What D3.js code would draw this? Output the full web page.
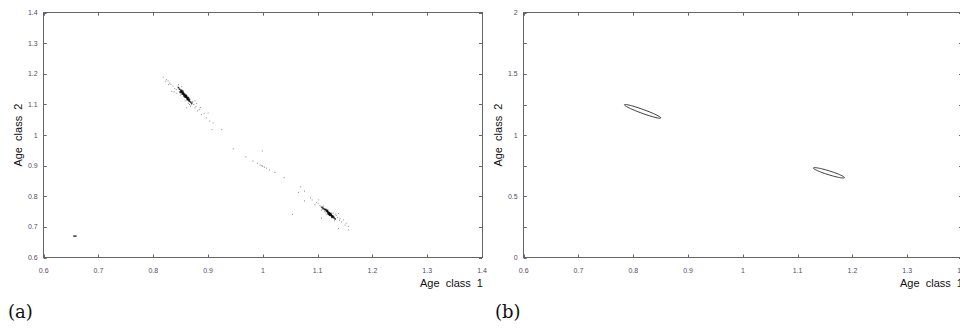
<!DOCTYPE html>
<html><head><meta charset="utf-8">
<script src="https://cdn.jsdelivr.net/npm/d3@7"></script>
<style>
html,body{margin:0;padding:0;background:#fff;}
svg{display:block;}
</style></head>
<body>
<svg id="chart" width="960" height="330"></svg>
<script>
// ---------- DATA ----------
const xTicksA = [0.6,0.7,0.8,0.9,1,1.1,1.2,1.3,1.4];
const yTicksA = [0.6,0.7,0.8,0.9,1,1.1,1.2,1.3,1.4];
const xTicksB = [0.6,0.7,0.8,0.9,1,1.1,1.2,1.3,1.4];
const yTicksB = [0,0.5,1,1.5,2];
const yMinorB = [0.25,0.75,1.25,1.75];

// panel (a): scattered simulation points, [age class 1, age class 2]
const cluster1Outer = [
 [0.818,1.189],[0.824,1.181],[0.827,1.177],[0.830,1.170],[0.834,1.143],[0.836,1.160],
 [0.845,1.160],[0.849,1.138],[0.861,1.089],[0.870,1.099],[0.876,1.089],[0.881,1.079],
 [0.888,1.067],[0.897,1.056],[0.900,1.072],[0.903,1.046],[0.907,1.018],[0.925,1.018],
 [0.909,1.040],[0.832,1.166],[0.839,1.152],[0.842,1.149],[0.838,1.141],[0.871,1.106],
 [0.874,1.100],[0.868,1.094],[0.878,1.094],[0.884,1.083],[0.866,1.100],[0.843,1.137],
 [0.822,1.176],[0.828,1.165],[0.846,1.165],[0.852,1.158],[0.872,1.110],[0.879,1.103],
 [0.886,1.090],[0.864,1.104],[0.858,1.112],[0.893,1.070],[0.850,1.131],[0.876,1.112]
];
const cluster1Core = [
 [0.846,1.155],[0.848,1.150],[0.850,1.146],[0.851,1.143],[0.853,1.140],[0.854,1.137],
 [0.855,1.134],[0.856,1.132],[0.857,1.130],[0.858,1.128],[0.859,1.126],[0.860,1.124],
 [0.861,1.122],[0.862,1.120],[0.863,1.118],[0.864,1.116],[0.865,1.113],[0.866,1.111],
 [0.868,1.108],[0.870,1.104],[0.852,1.146],[0.855,1.138],[0.857,1.134],[0.859,1.131],
 [0.861,1.127],[0.863,1.123],[0.860,1.129],[0.856,1.128],[0.858,1.124],[0.862,1.116],
 [0.864,1.121],[0.854,1.143],[0.866,1.117],[0.849,1.141],[0.853,1.134],[0.851,1.139]
];
const middlePoints = [
 [0.946,0.955],[0.969,0.929],[0.999,0.948],[0.982,0.915],[0.990,0.908],[0.995,0.902],
 [0.998,0.900],[1.000,0.898],[1.003,0.895],[1.007,0.892],[1.012,0.886],[1.022,0.878],
 [1.039,0.861],[1.069,0.831],[1.076,0.817],[1.065,0.813],[1.076,0.785],[1.054,0.741]
];
const cluster2Outer = [
 [1.087,0.795],[1.090,0.788],[1.102,0.788],[1.101,0.777],[1.095,0.772],[1.107,0.755],
 [1.138,0.744],[1.141,0.728],[1.147,0.723],[1.150,0.706],[1.156,0.701],[1.138,0.695],
 [1.156,0.690],[1.107,0.728],[1.113,0.750],[1.098,0.780],[1.104,0.770],[1.134,0.737],
 [1.144,0.716],[1.131,0.720],[1.111,0.768],[1.115,0.745],[1.136,0.731],[1.152,0.712],
 [1.106,0.766],[1.128,0.745],[1.133,0.742],[1.140,0.722],[1.117,0.740],[1.109,0.758]
];
const cluster2Core = [
 [1.108,0.764],[1.110,0.761],[1.112,0.758],[1.114,0.756],[1.116,0.753],[1.118,0.750],
 [1.119,0.748],[1.120,0.746],[1.121,0.744],[1.122,0.742],[1.123,0.740],[1.124,0.738],
 [1.125,0.737],[1.126,0.735],[1.128,0.732],[1.130,0.729],[1.132,0.726],[1.115,0.757],
 [1.117,0.751],[1.119,0.745],[1.121,0.747],[1.123,0.743],[1.125,0.740],[1.127,0.736],
 [1.120,0.741],[1.118,0.754],[1.122,0.738],[1.126,0.731],[1.124,0.744],[1.129,0.734]
];
const isolatedPoints = [[0.654,0.670],[0.656,0.670],[0.658,0.670],[0.660,0.670]];

// panel (b): confidence ellipses: centre, major half-axis vector, minor half-axis vector (data units)
const ellipseCentres = [[0.817,1.194],[1.157,0.692]];
const ellipseMajor   = [[0.0332,-0.054],[0.0283,-0.0396]];
const ellipseMinor   = [[-0.0013,-0.0150],[-0.0011,-0.0150]];

// ---------- DRAW ----------
const svg = d3.select('#chart');
const tickColor = '#5a4a66';

function panel(opts){
  const {x0,x1,y0,y1,xDom,yDom,xTicks,yTicks,yMinor,yLabelX,xLabelRight,yFmt} = opts;
  const x = d3.scaleLinear().domain(xDom).range([x0,x1]);
  const y = d3.scaleLinear().domain(yDom).range([y0,y1]);
  const g = svg.append('g');
  g.append('rect').attr('x',x0).attr('y',y1).attr('width',x1-x0).attr('height',y0-y1)
    .attr('fill','none').attr('stroke','#666').attr('stroke-width',1).attr('shape-rendering','crispEdges');
  const tl = 3;
  const allY = yTicks.concat(yMinor||[]);
  g.selectAll('.xtb').data(xTicks).join('line')
    .attr('x1',d=>Math.round(x(d))+0.5).attr('x2',d=>Math.round(x(d))+0.5)
    .attr('y1',y0).attr('y2',y0-tl).attr('stroke','#666');
  g.selectAll('.xtt').data(xTicks).join('line')
    .attr('x1',d=>Math.round(x(d))+0.5).attr('x2',d=>Math.round(x(d))+0.5)
    .attr('y1',y1).attr('y2',y1+tl).attr('stroke','#666');
  g.selectAll('.ytl').data(allY).join('line')
    .attr('y1',d=>Math.round(y(d))+0.5).attr('y2',d=>Math.round(y(d))+0.5)
    .attr('x1',x0).attr('x2',x0+tl).attr('stroke','#666');
  g.selectAll('.ytr').data(allY).join('line')
    .attr('y1',d=>Math.round(y(d))+0.5).attr('y2',d=>Math.round(y(d))+0.5)
    .attr('x1',x1).attr('x2',x1-tl).attr('stroke','#666');
  g.selectAll('.xl').data(xTicks).join('text')
    .attr('x',d=>x(d)).attr('y',y0+15).attr('text-anchor','middle')
    .attr('font-family','Liberation Sans, Arial, sans-serif').attr('font-size',7)
    .attr('fill',tickColor).text(d=>d3.format('')(d));
  g.selectAll('.yl').data(yTicks).join('text')
    .attr('x',x0-6).attr('y',d=>y(d)+2.5).attr('text-anchor','end')
    .attr('font-family','Liberation Sans, Arial, sans-serif').attr('font-size',7)
    .attr('fill',tickColor).text(d=>yFmt(d));
  g.append('text').attr('x',xLabelRight).attr('y',y0+29).attr('text-anchor','end')
    .attr('font-family','Liberation Sans, Arial, sans-serif').attr('font-size',11)
    .attr('fill','#111').style('white-space','pre')
    .text('Age  class  1');
  g.append('text').attr('transform',`translate(${yLabelX},${(y0+y1)/2}) rotate(-90)`)
    .attr('text-anchor','middle')
    .attr('font-family','Liberation Sans, Arial, sans-serif').attr('font-size',11)
    .attr('fill','#111').style('white-space','pre')
    .text('Age  class  2');
  return {x,y,g};
}

// Panel (a)
const A = panel({x0:43.7,x1:482,y0:257.5,y1:12.7,xDom:[0.6,1.4],yDom:[0.6,1.4],
  xTicks:xTicksA,yTicks:yTicksA,yMinor:[],yLabelX:21.5,xLabelRight:483,yFmt:d3.format('')});

function dots(data, r, fill, op){
  A.g.append('g').selectAll('rect').data(data).join('rect')
    .attr('x',d=>A.x(d[0])-r/2).attr('y',d=>A.y(d[1])-r/2)
    .attr('width',r).attr('height',r).attr('fill',fill).attr('opacity',op);
}
dots(cluster1Outer,1,'#333',0.55);
dots(cluster2Outer,1,'#333',0.55);
dots(middlePoints,1,'#333',0.6);
dots(cluster1Core,1.6,'#000',0.8);
dots(cluster2Core,1.6,'#000',0.8);
A.g.append('path').datum(isolatedPoints)
  .attr('d',d3.line().x(d=>A.x(d[0])).y(d=>A.y(d[1])))
  .attr('stroke','#000').attr('stroke-width',1.2).attr('fill','none');

// Panel (b)
const B = panel({x0:523.7,x1:962,y0:257.5,y1:12.7,xDom:[0.6,1.4],yDom:[0,2],
  xTicks:xTicksB,yTicks:yTicksB,yMinor:yMinorB,yLabelX:501.5,xLabelRight:963,yFmt:d3.format('')});

const angles = d3.range(0, 361, 5).map(a=>a*Math.PI/180);
ellipseCentres.forEach((c,i)=>{
  const M = ellipseMajor[i], m = ellipseMinor[i];
  const pts = angles.map(t=>[c[0]+M[0]*Math.cos(t)+m[0]*Math.sin(t), c[1]+M[1]*Math.cos(t)+m[1]*Math.sin(t)]);
  B.g.append('path').datum(pts)
    .attr('d',d3.line().x(d=>B.x(d[0])).y(d=>B.y(d[1])).curve(d3.curveLinearClosed))
    .attr('fill','none').attr('stroke','#222').attr('stroke-width',0.9);
});

// captions
svg.append('text').attr('x',8).attr('y',318).attr('font-family','DejaVu Serif, Liberation Serif, serif')
  .attr('font-size',18).attr('fill','#111').text('(a)');
svg.append('text').attr('x',495).attr('y',318).attr('font-family','DejaVu Serif, Liberation Serif, serif')
  .attr('font-size',18).attr('fill','#111').text('(b)');
</script>
</body></html>
